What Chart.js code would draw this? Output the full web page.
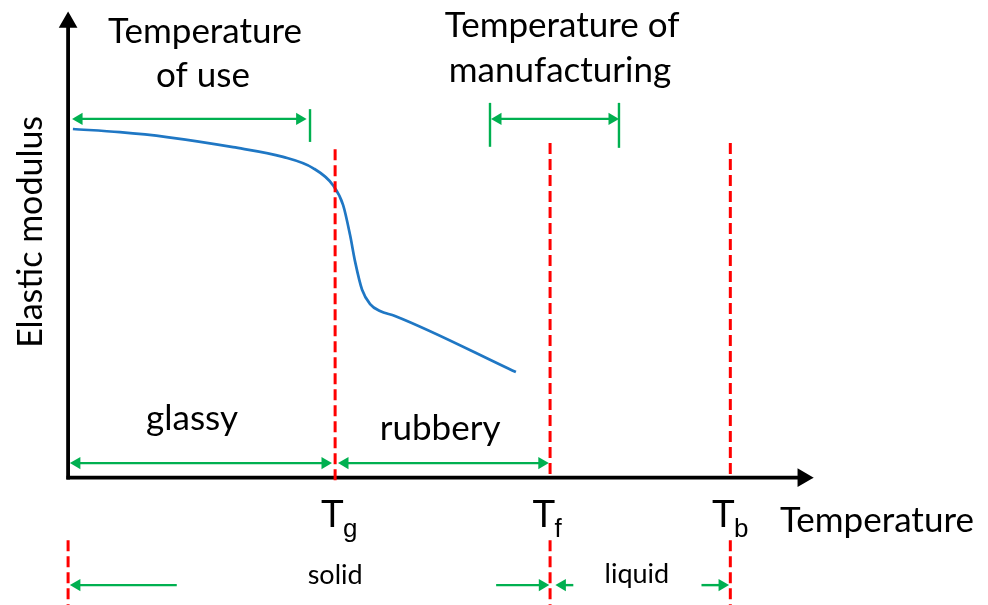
<!DOCTYPE html>
<html>
<head>
<meta charset="utf-8">
<script src="https://cdn.jsdelivr.net/npm/chart.js@4/dist/chart.umd.min.js"></script>
<style>
  body { margin: 0; background: #fff; }
  #grafico { display: block; }
</style>
</head>
<body>
<canvas id="grafico" width="988" height="605"></canvas>
<script>
// curva del modulo elastico
const curveTemp = [1.8, 19.4, 37.0, 61.8, 80.5, 91.7, 99.2, 103.0, 105.6, 107.5, 110.1, 113.1, 116.8, 122.4, 167.7];
const curveModulus = [100.0, 99.1, 97.7, 94.8, 92.0, 88.8, 83.9, 78.2, 69.6, 61.9, 53.9, 49.8, 47.8, 46.4, 30.3];

// temperaturas de transicion Tg, Tf, Tb
const transitionNames = ['g', 'f', 'b'];
const transitionTemps = [100, 180.5, 248];
const transitionTops = [94.2, 96.0, 96.0];

// rangos marcados con flechas verdes
const rangeFrom = [1.5, 158.4, 0.7, 101.1, 40.7, 160.3, 189.2, 237.2];
const rangeTo = [89.3, 206.3, 98.8, 180.0, 0.7, 180.2, 182.5, 247.5];
const rangeLevel = [102.9, 102.9, 4.2, 4.2, -30.8, -30.8, -30.8, -30.8];
const rangeHeadStart = [true, true, true, true, false, false, false, false];

// marcas verticales de los rangos de uso y fabricacion
const tickTemps = [90.6, 158.0, 206.3];
const tickLow = [96.3, 94.9, 94.6];
const tickHigh = [105.7, 107.5, 107.5];

const xMin = -25.5, xMax = 344.5;
const yMin = -36.5, yMax = 137;
const axisEndT = 275.2, axisEndV = 130.6;
const headOffset = 2.6;

const green = '#00B050';
const red = '#FF0000';
const blue = '#1F77C4';

const labels = [
  { text: 'Temperature', t: 51.3, v: 124.7 },
  { text: 'of use', t: 50.5, v: 112.0 },
  { text: 'Temperature of', t: 185.0, v: 126.4 },
  { text: 'manufacturing', t: 184.2, v: 113.5 },
  { text: 'glassy', t: 46.4, v: 13.7 },
  { text: 'rubbery', t: 139.3, v: 10.8 },
  { text: 'Temperature', t: 302.9, v: -15.6 },
  { text: 'solid', t: 100, v: -30.5, small: true },
  { text: 'liquid', t: 213.0, v: -30.2, small: true }
];
const transitionLabelV = -14.1;
const transitionLabelT = [99.0, 178.2, 245.4];

const datasets = [];

datasets.push({
  data: curveTemp.map((t, i) => ({ x: t, y: curveModulus[i] })),
  borderColor: blue,
  borderWidth: 2.7,
  pointRadius: 0,
  cubicInterpolationMode: 'monotone',
  order: 1
});

// ejes con flecha
datasets.push({
  data: [{ x: 0, y: -0.5 }, { x: 0, y: axisEndV }],
  borderColor: '#000', backgroundColor: '#000', borderWidth: 3.8,
  pointStyle: 'triangle', rotation: [0, 0], pointRadius: [0, 7], order: 3
});
datasets.push({
  data: [{ x: -0.6, y: 0 }, { x: axisEndT, y: 0 }],
  borderColor: '#000', backgroundColor: '#000', borderWidth: 3.8,
  pointStyle: 'triangle', rotation: [90, 90], pointRadius: [0, 7], order: 3
});

// lineas rojas discontinuas
transitionTemps.forEach((t, i) => {
  datasets.push({
    data: [{ x: t, y: transitionTops[i] }, { x: t, y: i === 0 ? -1.5 : 0 }],
    borderColor: red, borderWidth: 3, borderDash: [11, 5], pointRadius: 0, order: 0
  });
});
[0, transitionTemps[1], transitionTemps[2]].forEach(t => {
  datasets.push({
    data: [{ x: t, y: -17.9 }, { x: t, y: yMin }],
    borderColor: red, borderWidth: 3, borderDash: [11, 5], pointRadius: 0, order: 0
  });
});

// flechas verdes
rangeFrom.forEach((from, i) => {
  const to = rangeTo[i];
  const dir = to > from ? 1 : -1;
  const a = rangeHeadStart[i] ? from + dir * headOffset : from;
  const b = to - dir * headOffset;
  datasets.push({
    data: [{ x: a, y: rangeLevel[i] }, { x: b, y: rangeLevel[i] }],
    borderColor: green, backgroundColor: green, borderWidth: 2.4,
    pointStyle: 'triangle',
    rotation: [dir > 0 ? 270 : 90, dir > 0 ? 90 : 270],
    pointRadius: [rangeHeadStart[i] ? 7 : 0, 7],
    pointBorderWidth: 0,
    order: 2
  });
});
tickTemps.forEach((t, i) => {
  datasets.push({
    data: [{ x: t, y: tickLow[i] }, { x: t, y: tickHigh[i] }],
    borderColor: green, borderWidth: 2.4, pointRadius: 0, order: 2
  });
});

const textos = {
  id: 'textos',
  afterDatasetsDraw(chart) {
    const ctx = chart.ctx;
    const sx = chart.scales.x, sy = chart.scales.y;
    ctx.save();
    ctx.fillStyle = '#000';
    ctx.textAlign = 'center';
    ctx.textBaseline = 'alphabetic';
    labels.forEach(l => {
      ctx.font = (l.small ? '27px' : '35px') + ' Lato';
      ctx.fillText(l.text, sx.getPixelForValue(l.t), sy.getPixelForValue(l.v));
    });

    transitionNames.forEach((name, i) => {
      const x = sx.getPixelForValue(transitionLabelT[i]);
      const y = sy.getPixelForValue(transitionLabelV);
      ctx.font = '38px "Liberation Sans"';
      ctx.textAlign = 'center';
      ctx.fillText('T', x, y);
      const w = ctx.measureText('T').width;
      ctx.font = '26px "Liberation Sans"';
      ctx.textAlign = 'left';
      ctx.fillText(name, x + w / 2 - 1, y + 10);
    });

    ctx.translate(sx.getPixelForValue(-9.8), sy.getPixelForValue(70.5));
    ctx.rotate(-Math.PI / 2);
    ctx.textAlign = 'center';
    ctx.font = '34px Lato';
    ctx.fillText('Elastic modulus', 0, 0);
    ctx.restore();
  }
};

new Chart(document.querySelector('#grafico'), {
  type: 'scatter',
  data: { datasets: datasets.map(d => Object.assign({ showLine: true, fill: false }, d)) },
  options: {
    responsive: false,
    animation: false,
    layout: { padding: 0, autoPadding: false },
    scales: {
      x: { type: 'linear', min: xMin, max: xMax, display: false },
      y: { type: 'linear', min: yMin, max: yMax, display: false }
    },
    plugins: { legend: { display: false }, tooltip: { enabled: false } }
  },
  plugins: [textos]
});
</script>
</body>
</html>
